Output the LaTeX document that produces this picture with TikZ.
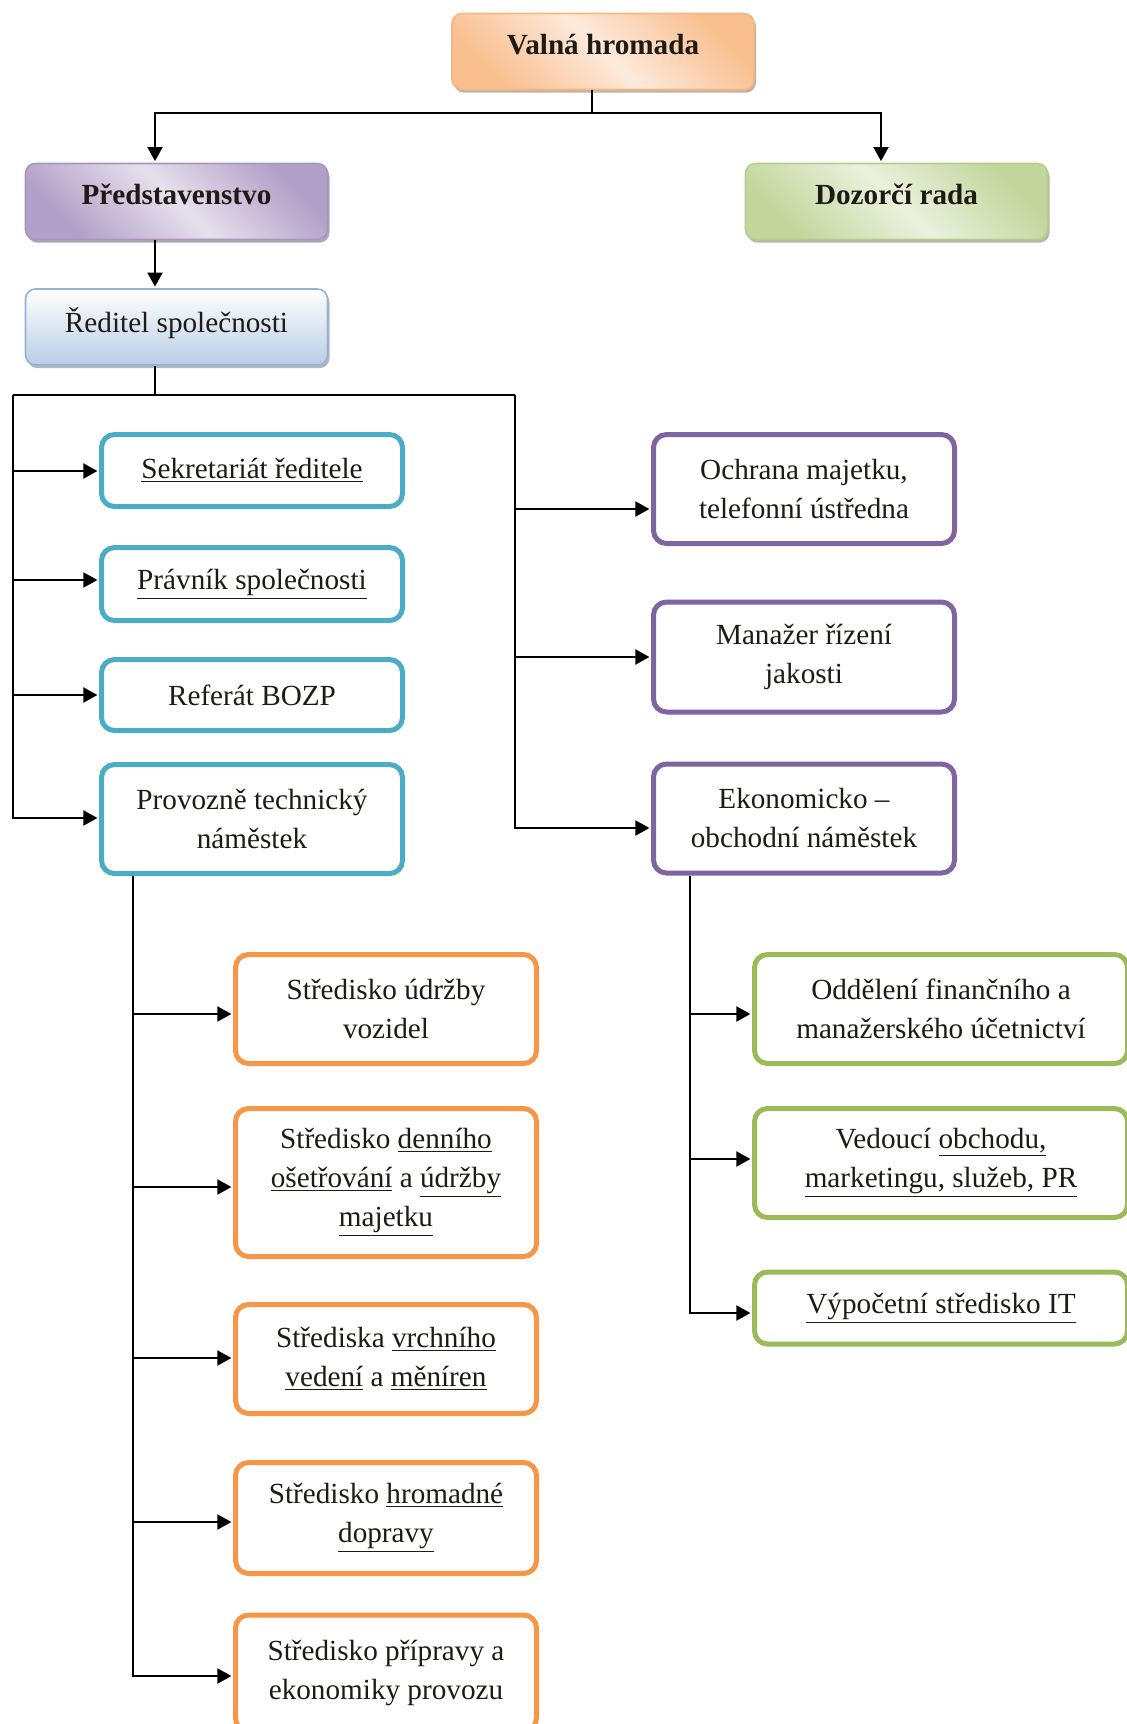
\documentclass[tikz,border=0pt]{standalone}
\usepackage{fontspec}
\setmainfont{Liberation Serif}
\usetikzlibrary{arrows.meta,shadows}
\definecolor{txt}{HTML}{1E1B16}
\definecolor{tblue}{HTML}{4BACC6}
\definecolor{tpurple}{HTML}{8064A2}
\definecolor{torange}{HTML}{F79646}
\definecolor{tgreen}{HTML}{9BBB59}
\definecolor{vdark}{HTML}{F9BF8F}
\definecolor{vlight}{HTML}{FDEADC}
\definecolor{vborder}{HTML}{F5B885}
\definecolor{pdark}{HTML}{B1A0C7}
\definecolor{plight}{HTML}{E6E0EC}
\definecolor{pborder}{HTML}{A995C0}
\definecolor{gdark}{HTML}{C3D69B}
\definecolor{glight}{HTML}{EBF1DE}
\definecolor{gborder}{HTML}{B5CC8A}
\definecolor{bdark}{HTML}{B9CDE5}
\definecolor{bborder}{HTML}{95B3D7}
\newcommand{\fsz}{\fontsize{14.6}{19.5}\selectfont}
\newcommand{\upr}[1]{\raisebox{7.5pt}{#1}}
\begin{document}
\begin{tikzpicture}[x=0.5pt,y=-0.5pt,
  conn/.style={line width=1pt, draw=black},
  arr/.style={conn, -{Triangle[length=7pt,width=7.5pt]}, shorten >=0.8pt},
  topbox/.style={draw, line width=0.8pt, rounded corners=5pt,
    minimum width=151pt, minimum height=38pt, font=\fsz\bfseries, text=txt, align=center},
  outbox/.style={draw, line width=2.5pt, rounded corners=6.5pt, fill=white,
    minimum width=150.5pt, font=\fsz, text=txt, align=center, inner sep=2pt},
  bluebox/.style={outbox, draw=tblue},
  purplebox/.style={outbox, draw=tpurple},
  orangebox/.style={outbox, draw=torange},
  greenbox/.style={outbox, draw=tgreen, minimum width=186.5pt},
]
\useasboundingbox (0,0) rectangle (1127,1724);

% top level
\node[topbox, draw=vborder, left color=vdark, right color=vdark, middle color=vlight, shading angle=135,
  drop shadow={shadow xshift=1pt, shadow yshift=-1.6pt, fill=vdark!60!black, opacity=.55}]
  (vh) at (603,51.5) {\upr{Valná hromada}};
\node[topbox, draw=pborder, left color=pdark, right color=pdark, middle color=plight, shading angle=135,
  drop shadow={shadow xshift=1pt, shadow yshift=-1.6pt, fill=pdark!60!black, opacity=.55}]
  (pr) at (176.5,201.5) {\upr{Představenstvo}};
\node[topbox, draw=gborder, left color=gdark, right color=gdark, middle color=glight, shading angle=135,
  drop shadow={shadow xshift=1pt, shadow yshift=-1.6pt, fill=gdark!60!black, opacity=.55}]
  (dr) at (896.5,201.5) {\upr{Dozorčí rada}};
\node[topbox, draw=bborder, top color=white, bottom color=bdark, font=\fsz,
  drop shadow={shadow xshift=1pt, shadow yshift=-1.6pt, fill=bdark!60!black, opacity=.55}]
  (rd) at (176.5,327) {\upr{Ředitel společnosti}};

% blue boxes
\node[bluebox, minimum height=36pt] (sek) at (252,470.5) {\underline{Sekretariát ředitele}};
\node[bluebox, minimum height=36.5pt] (prav) at (252,584) {\underline{Právník společnosti}};
\node[bluebox, minimum height=35.5pt] (bozp) at (252,695) {Referát BOZP};
\node[bluebox, minimum height=54.5pt] (prov) at (252,819) {Provozně technický\\náměstek};

% purple boxes
\node[purplebox, minimum height=54.5pt] (och) at (804,489) {Ochrana majetku,\\telefonní ústředna};
\node[purplebox, minimum height=55pt] (man) at (804,657) {Manažer řízení\\jakosti};
\node[purplebox, minimum height=54.5pt] (eko) at (804,818.5) {Ekonomicko –\\obchodní náměstek};

% orange boxes
\node[orangebox, minimum height=54.5pt] (o1) at (386,1009) {Středisko údržby\\vozidel};
\node[orangebox, minimum height=74pt] (o2) at (386,1182.5) {Středisko \underline{denního}\\\underline{ošetřování} a \underline{údržby}\\\underline{majetku}};
\node[orangebox, minimum height=54.5pt] (o3) at (386,1359) {Střediska \underline{vrchního}\\\underline{vedení} a \underline{měníren}};
\node[orangebox, minimum height=55.5pt] (o4) at (386,1518) {Středisko \underline{hromadné}\\\underline{dopravy}};
\node[orangebox, minimum height=58pt] (o5) at (386,1673) {Středisko přípravy a\\ekonomiky provozu};

% green boxes
\node[greenbox, minimum height=54.5pt] (g1) at (941,1009) {Oddělení finančního a\\manažerského účetnictví};
\node[greenbox, minimum height=54.5pt] (g2) at (941,1163) {Vedoucí \underline{obchodu,}\\\underline{marketingu, služeb, PR}};
\node[greenbox, minimum height=36pt] (g3) at (941,1308) {\underline{Výpočetní středisko IT}};

% connectors top
\coordinate (vj) at (592,113);
\draw[conn] (vh.south -| vj) -- (vj);
\draw[arr] (vj) -| (pr.north -| 155,0);
\draw[arr] (vj) -| (dr.north -| 881,0);
\draw[arr] (pr.south -| 155,0) -- (rd.north -| 155,0);

% director distribution
\coordinate (rj) at (155,395);
\coordinate (lv) at (13,395);
\coordinate (rv) at (515,395);
\draw[conn] (rd.south -| rj) -- (rj);
\draw[conn] (lv) -- (rv);
\draw[arr] (lv) |- (prov.west |- 0,818);
\draw[arr] (lv |- 0,471) -- (sek.west |- 0,471);
\draw[arr] (lv |- 0,580) -- (prav.west |- 0,580);
\draw[arr] (lv |- 0,695) -- (bozp.west |- 0,695);
\draw[arr] (rv) |- (eko.west |- 0,828);
\draw[arr] (rv |- 0,509) -- (och.west |- 0,509);
\draw[arr] (rv |- 0,657) -- (man.west |- 0,657);

% technical deputy
\coordinate (ox) at (133,0);
\draw[arr] (prov.south -| ox) |- (o5.west |- 0,1676);
\draw[arr] (ox |- 0,1014) -- (o1.west |- 0,1014);
\draw[arr] (ox |- 0,1187) -- (o2.west |- 0,1187);
\draw[arr] (ox |- 0,1358) -- (o3.west |- 0,1358);
\draw[arr] (ox |- 0,1522) -- (o4.west |- 0,1522);

% economic deputy
\coordinate (gx) at (690,0);
\draw[arr] (eko.south -| gx) |- (g3.west |- 0,1313);
\draw[arr] (gx |- 0,1014) -- (g1.west |- 0,1014);
\draw[arr] (gx |- 0,1159) -- (g2.west |- 0,1159);
\end{tikzpicture}
\end{document}
